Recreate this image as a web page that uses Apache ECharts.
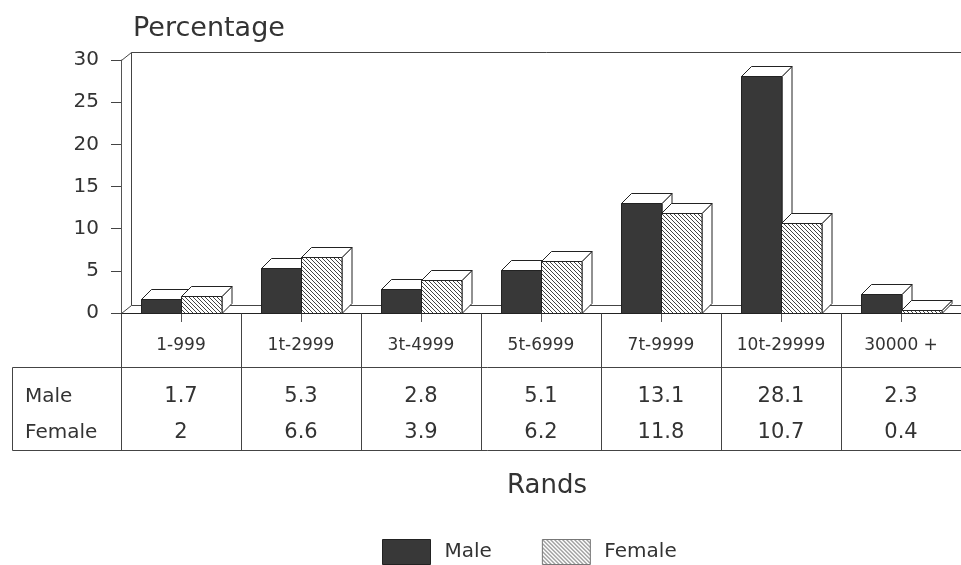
<!DOCTYPE html>
<html>
<head>
<meta charset="utf-8">
<script src="https://cdn.jsdelivr.net/npm/echarts@6/dist/echarts.min.js"></script>
<style>
html, body { margin: 0; padding: 0; background: #fff; }
#chart { width: 961px; height: 565px; }
</style>
</head>
<body>
<div id="chart"></div>
<script>
// Income bands (Rands) and percentage per sex
const categories = ['1-999', '1t-2999', '3t-4999', '5t-6999', '7t-9999', '10t-29999', '30000 +'];
const maleValues = [1.7, 5.3, 2.8, 5.1, 13.1, 28.1, 2.3];
const femaleValues = [2, 6.6, 3.9, 6.2, 11.8, 10.7, 0.4];
const seriesNames = ['Male', 'Female'];
const yAxisMin = 0;
const yAxisMax = 30;
const yAxisStep = 5;

const FONT = 'DejaVu Sans';
const INK = '#333';
const EDGE = '#222';
const DX = 10, DY = 10;      // bar depth offset
const WX = 10, WY = 8;       // wall/floor depth offset
const TABLE_MID = 367, TABLE_BOTTOM = 450, TABLE_LEFT = 12;

// diagonal hatch used for the Female bars
function makeHatch() {
  const s = 4;
  const cv = document.createElement('canvas');
  cv.width = s; cv.height = s;
  const g = cv.getContext('2d');
  g.fillStyle = '#fff';
  g.fillRect(0, 0, s, s);
  g.strokeStyle = '#444';
  g.lineWidth = 1;
  g.beginPath();
  g.moveTo(-1, -1); g.lineTo(s + 1, s + 1);
  g.moveTo(-1, s - 1); g.lineTo(1, s + 1);
  g.moveTo(s - 1, -1); g.lineTo(s + 1, 1);
  g.stroke();
  return { image: cv, repeat: 'repeat' };
}
const hatch = makeHatch();
const maleFill = '#383838';

// 3D box renderer: side = -1 puts the bar left of the category centre, 0 right of it
function boxRenderer(side, fill) {
  return function (params, api) {
    const i = api.value(0), v = api.value(1);
    const band = api.size([1, 0])[0];
    const w = band / 3;
    const top = api.coord([i, v]);
    const base = api.coord([i, 0]);
    const x0 = Math.round(top[0] + side * w) + 0.5;
    const x1 = Math.round(x0 + w);
    const yT = Math.round(top[1]) + 0.5, yB = Math.round(base[1]) + 0.5;
    const line = { stroke: EDGE, lineWidth: 1 };
    return {
      type: 'group',
      children: [
        { type: 'polygon', shape: { points: [[x1, yT], [x1 + DX, yT - DY], [x1 + DX, yB - DY], [x1, yB]] },
          style: Object.assign({ fill: '#fff' }, line) },
        { type: 'polygon', shape: { points: [[x0, yT], [x0 + DX, yT - DY], [x1 + DX, yT - DY], [x1, yT]] },
          style: Object.assign({ fill: '#fff' }, line) },
        { type: 'rect', shape: { x: x0, y: yT, width: x1 - x0, height: yB - yT },
          style: Object.assign({ fill: fill }, line) }
      ]
    };
  };
}

const chart = echarts.init(document.getElementById('chart'), null, { renderer: 'canvas' });

const option = {
  backgroundColor: '#fff',
  animation: false,
  grid: { left: 121, top: 60, width: 842, bottom: 252, containLabel: false },
  xAxis: {
    type: 'category',
    data: categories,
    name: 'Rands',
    nameLocation: 'middle',
    nameGap: 173,
    nameTextStyle: { fontFamily: FONT, fontSize: 26, color: INK, verticalAlign: 'middle', padding: [0, 0, 0, 12] },
    axisLine: { show: true, lineStyle: { color: EDGE, width: 1 } },
    axisTick: { show: true, alignWithLabel: true, length: 9, lineStyle: { color: '#555' } },
    axisLabel: { interval: 0, margin: 33, verticalAlign: 'middle', fontFamily: FONT, fontSize: 17, color: INK },
    splitLine: { show: false }
  },
  yAxis: {
    type: 'value',
    min: yAxisMin, max: yAxisMax, interval: yAxisStep,
    name: 'Percentage',
    nameLocation: 'end',
    nameGap: 31,
    nameTextStyle: { fontFamily: FONT, fontSize: 27, color: INK, align: 'left', verticalAlign: 'middle', padding: [0, 0, 0, 12] },
    axisLine: { show: true, lineStyle: { color: '#555', width: 1 } },
    axisTick: { show: true, length: 10, lineStyle: { color: '#444' } },
    axisLabel: { margin: 22, fontFamily: FONT, fontSize: 20, color: INK },
    splitLine: { show: false }
  },
  legend: {
    left: 377, top: 534,
    itemWidth: 48, itemHeight: 25, itemGap: 50,
    textStyle: { fontFamily: FONT, fontSize: 20, color: INK, padding: [0, 0, 0, 9] },
    data: [
      { name: seriesNames[0], icon: 'rect', itemStyle: { color: maleFill, borderColor: EDGE, borderWidth: 1 } },
      { name: seriesNames[1], icon: 'rect', itemStyle: { color: hatch, borderColor: '#777', borderWidth: 1 } }
    ]
  },
  series: [
    {
      type: 'custom', name: seriesNames[0],
      itemStyle: { color: maleFill },
      renderItem: boxRenderer(-1, maleFill),
      data: maleValues.map((v, i) => [i, v]),
      z: 3
    },
    {
      type: 'custom', name: seriesNames[1],
      itemStyle: { color: hatch },
      renderItem: boxRenderer(0, hatch),
      data: femaleValues.map((v, i) => [i, v]),
      z: 4
    }
  ]
};
chart.setOption(option);

// Back walls, floor and the value table, placed from the axis scales
function drawFrameAndTable() {
  const c0 = chart.convertToPixel({ xAxisIndex: 0 }, 0);
  const c1 = chart.convertToPixel({ xAxisIndex: 0 }, 1);
  const band = c1 - c0;
  const left = Math.round(c0 - band / 2) + 0.5;
  const yZero = Math.round(chart.convertToPixel({ yAxisIndex: 0 }, yAxisMin)) + 0.5;
  const yTop = Math.round(chart.convertToPixel({ yAxisIndex: 0 }, yAxisMax)) + 0.5;
  const right = 965;
  const frameStyle = { stroke: '#444', lineWidth: 1, fill: null };
  const els = [];
  const seg = (pts, style) => els.push({ type: 'polyline', z: 1, silent: true, shape: { points: pts }, style: style || frameStyle });

  // left wall, back wall top, floor
  seg([[left, yTop], [left + WX, yTop - WY], [right, yTop - WY]]);
  seg([[left + WX, yTop - WY], [left + WX, yZero - WY]]);
  seg([[left, yZero], [left + WX, yZero - WY], [right, yZero - WY]]);

  // table grid
  const tStyle = { stroke: '#444', lineWidth: 1, fill: null };
  for (let k = 0; k <= categories.length; k++) {
    const x = Math.round(c0 - band / 2 + k * band) + 0.5;
    seg([[x, yZero], [x, TABLE_BOTTOM + 0.5]], tStyle);
  }
  seg([[TABLE_LEFT + 0.5, TABLE_MID + 0.5], [right, TABLE_MID + 0.5]], tStyle);
  seg([[TABLE_LEFT + 0.5, TABLE_BOTTOM + 0.5], [right, TABLE_BOTTOM + 0.5]], tStyle);
  seg([[TABLE_LEFT + 0.5, TABLE_MID + 0.5], [TABLE_LEFT + 0.5, TABLE_BOTTOM + 0.5]], tStyle);

  const rowY = [397, 433];
  const rows = [maleValues, femaleValues];
  const txt = (x, y, s, align, size) => els.push({
    type: 'text', z: 5, silent: true, x: x, y: y,
    style: { text: s, fontFamily: FONT, fontSize: size, fill: INK, align: align, verticalAlign: 'middle' }
  });
  seriesNames.forEach((n, r) => txt(TABLE_LEFT + 13, rowY[r], n, 'left', 20));
  rows.forEach((vals, r) => vals.forEach((v, i) => {
    txt(chart.convertToPixel({ xAxisIndex: 0 }, i), rowY[r], String(v), 'center', 21);
  }));

  chart.setOption({ graphic: { elements: els } });
}
drawFrameAndTable();
</script>
</body>
</html>
